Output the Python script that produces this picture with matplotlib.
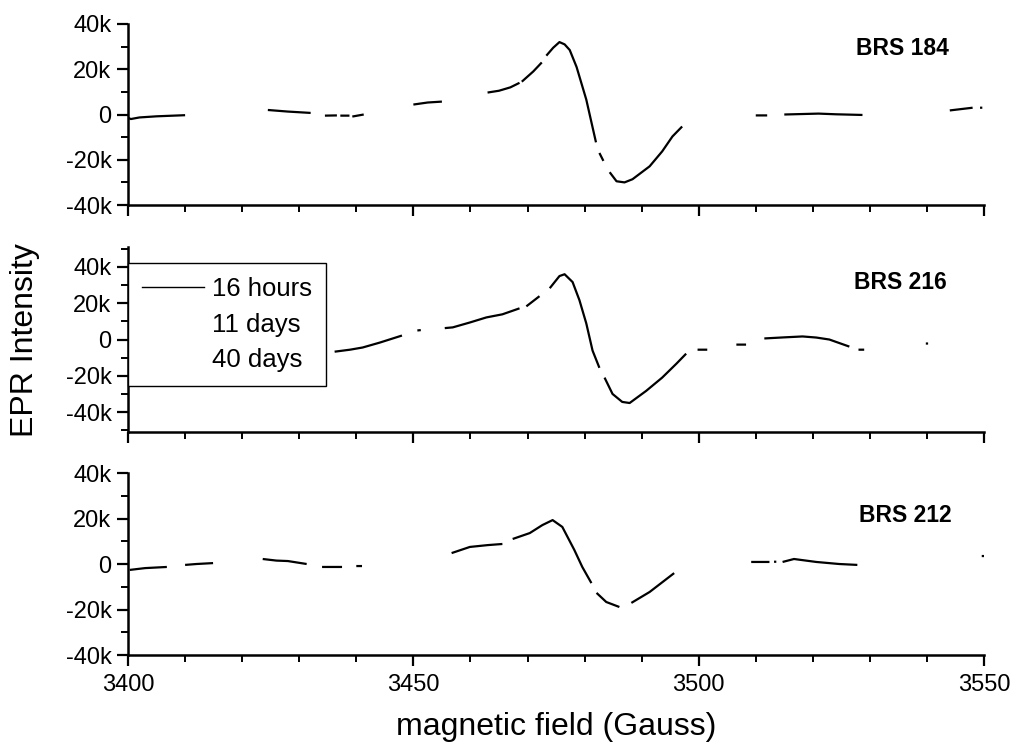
import numpy as np
import matplotlib
matplotlib.use("Agg")
import matplotlib.pyplot as plt
from matplotlib.ticker import MultipleLocator, FuncFormatter
from matplotlib.lines import Line2D

plt.rcParams['font.family'] = ['Liberation Sans', 'DejaVu Sans']

nan = np.nan
# Field values (Gauss) and EPR intensity (in thousands); NaN = gaps in the scanned trace
brs184_x = [3400, 3400.5, 3402, 3405, 3410, nan,
            3424.5, 3428, 3432, nan,
            3434.5, 3436.6, nan,
            3437.2, 3438.8, nan,
            3439.3, 3441.3, nan,
            3450, 3452.5, 3455, nan,
            3463, 3465, 3467, 3468.6, nan,
            3469, 3471, 3472.5, nan,
            3473.3, 3474.5, 3475.6, 3476.5, 3477.4, 3478.6, 3480.3, 3482, nan,
            3482.6, 3483.3, nan,
            3484.4, 3485.6, 3487, 3488.4, 3491.4, 3493.6, 3495.4, 3497.1, nan,
            3510, 3512, nan,
            3515, 3518, 3521, 3524, 3528.7, nan,
            3544, 3546, 3548, nan,
            3549.3, 3549.7]
brs184_y = [-1.5, -2.0, -1.3, -0.8, -0.3, nan,
            2.0, 1.3, 0.7, nan,
            -0.5, -0.4, nan,
            -0.5, -0.5, nan,
            -0.9, 0.0, nan,
            4.4, 5.3, 5.7, nan,
            9.7, 10.5, 12.0, 14.0, nan,
            14.5, 19.0, 23.0, nan,
            26.0, 29.5, 32.0, 31.0, 28.5, 21.0, 6.6, -12.3, nan,
            -17.0, -20.5, nan,
            -25.5, -29.5, -30.0, -28.6, -22.9, -16.3, -9.7, -5.3, nan,
            -0.4, -0.4, nan,
            0.0, 0.2, 0.4, 0.1, -0.2, nan,
            1.8, 2.4, 3.0, nan,
            3.0, 3.0]

brs216_x = [3400, 3405, 3415, 3425, 3433, nan,
            3436.2, 3438.9, 3441.1, 3444.1, 3448, nan,
            3450.7, 3451.3, nan,
            3455.5, 3456.9, 3459.9, 3462.8, 3465.6, 3468.6, nan,
            3469.8, 3472.1, nan,
            3473.9, 3475.6, 3476.5, 3477.9, 3479.1, 3480.3, 3481.4, 3482.6, nan,
            3483.5, 3484.9, 3486.6, 3487.9, 3490.8, 3493.6, 3496.1, 3497.8, nan,
            3499.8, 3501.5, nan,
            3506.6, 3508.3, nan,
            3511.5, 3515, 3518.2, 3520.6, 3522.9, 3526.4, nan,
            3528, 3529, nan,
            3539.8, 3540.2]
brs216_y = [0.0, -2.0, -5.0, -7.0, -7.5, nan,
            -6.7, -5.6, -4.4, -1.7, 2.2, nan,
            5.0, 5.2, nan,
            6.3, 6.7, 9.4, 12.2, 13.9, 17.2, nan,
            18.3, 23.9, nan,
            28.3, 35.0, 36.0, 31.7, 21.7, 8.9, -6.1, -15.6, nan,
            -21.0, -30.0, -34.4, -35.0, -28.3, -21.0, -13.3, -7.8, nan,
            -5.6, -5.6, nan,
            -2.8, -2.8, nan,
            0.6, 1.2, 1.7, 1.1, 0.0, -3.9, nan,
            -5.6, -5.6, nan,
            -2.2, -2.2]

brs212_x = [3400.3, 3403, 3406.8, nan,
            3410, 3412, 3414.9, nan,
            3423.6, 3426, 3428, 3431.3, nan,
            3434, 3436.6, 3437.5, nan,
            3440, 3441, nan,
            3456.7, 3459.9, 3463, 3465.6, nan,
            3467.4, 3470.4, 3472.6, 3474.4, 3476.1, 3478.2, 3479.6, 3481.2, nan,
            3482.1, 3483.8, 3486.1, nan,
            3488.2, 3491.4, 3495.7, nan,
            3509.2, 3512.4, nan,
            3513.2, 3513.6, nan,
            3514.7, 3516.7, 3520.6, 3524.6, 3527.8, nan,
            3549.6, 3550]
brs212_y = [-2.6, -1.8, -1.3, nan,
            -0.4, 0.0, 0.4, nan,
            2.2, 1.5, 1.3, 0.0, nan,
            -1.3, -1.3, -1.3, nan,
            -0.9, -0.9, nan,
            4.8, 7.5, 8.3, 8.8, nan,
            11.0, 13.6, 17.1, 19.3, 16.3, 6.2, -1.3, -8.4, nan,
            -12.7, -16.7, -18.9, nan,
            -17.1, -12.3, -4.0, nan,
            0.9, 0.9, nan,
            1.0, 1.0, nan,
            0.9, 2.2, 0.9, 0.0, -0.4, nan,
            3.5, 3.5]

sample_names = ["BRS 184", "BRS 216", "BRS 212"]
legend_labels = ["16 hours", "11 days", "40 days"]
x_major_ticks = [3400, 3450, 3500, 3550]

fig = plt.figure(figsize=(10.13, 7.45), dpi=100)
left, width = 0.1264, 0.845
ax_top = fig.add_axes([left, 0.7248, width, 0.2430])
ax_mid = fig.add_axes([left, 0.4201, width, 0.2483])
ax_bot = fig.add_axes([left, 0.1208, width, 0.2443])

panels = [
    (ax_top, brs184_x, brs184_y, (-40, 40), (0.905, 0.862)),
    (ax_mid, brs216_x, brs216_y, (-51, 51), (0.902, 0.811)),
    (ax_bot, brs212_x, brs212_y, (-40, 40), (0.908, 0.769)),
]

def kfmt(v, pos):
    if abs(v) < 1e-9:
        return "0"
    return f"{int(round(v))}k"

for i, (ax, xs, ys, ylim, tpos) in enumerate(panels):
    ax.plot(xs, ys, color='black', lw=1.6, solid_capstyle='butt')
    ax.set_xlim(3400, 3550)
    ax.set_ylim(*ylim)
    for s in ['top', 'right']:
        ax.spines[s].set_visible(False)
    for s in ['left', 'bottom']:
        ax.spines[s].set_linewidth(1.8)
    ax.set_xticks(x_major_ticks)
    ax.xaxis.set_minor_locator(MultipleLocator(10))
    ax.yaxis.set_major_locator(MultipleLocator(20))
    ax.yaxis.set_minor_locator(MultipleLocator(10))
    ax.yaxis.set_major_formatter(FuncFormatter(kfmt))
    ax.tick_params(which='major', direction='out', length=8, width=1.6,
                   labelsize=17)
    ax.tick_params(which='minor', direction='out', length=5, width=1.4)
    ax.tick_params(axis='x', which='major', pad=6)
    ax.tick_params(axis='y', which='major', pad=4)
    if i < 2:
        ax.tick_params(axis='x', labelbottom=False)
    ax.text(tpos[0], tpos[1], sample_names[i], transform=ax.transAxes,
            ha='center', va='center', fontsize=16.5, fontweight='bold')

handles = [Line2D([], [], color='black', lw=1.0),
           Line2D([], [], color='white', lw=1.0),
           Line2D([], [], color='white', lw=1.0)]
leg = ax_mid.legend(handles, legend_labels, loc='upper left',
                    bbox_to_anchor=(0.0, 0.914), borderaxespad=0,
                    fontsize=18.5, frameon=True, fancybox=False,
                    edgecolor='black', framealpha=1, handlelength=2.4,
                    handletextpad=0.3, labelspacing=0.45, borderpad=0.55)
leg.get_frame().set_linewidth(1.0)
leg.set_zorder(5)

fig.text(0.025, 0.543, "EPR Intensity", rotation=90, ha='center',
         va='center', fontsize=23)
fig.text(0.549, 0.024, "magnetic field (Gauss)", ha='center', va='center',
         fontsize=23)

fig.savefig("out.png", dpi=100)
